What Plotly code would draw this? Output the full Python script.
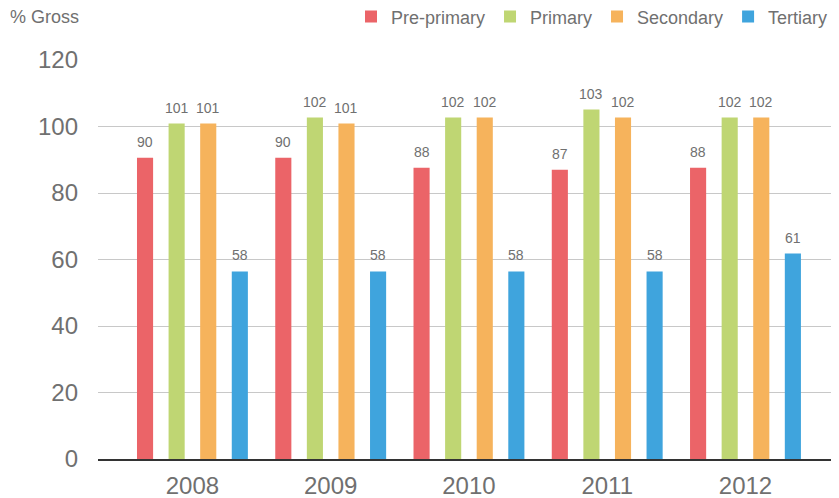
import plotly.graph_objects as go

years = ["2008", "2009", "2010", "2011", "2012"]
# bar heights as drawn in the picture
pre_primary = [90.6, 90.6, 87.6, 87.0, 87.6]
primary = [100.9, 102.7, 102.7, 105.1, 102.7]
secondary = [100.9, 100.9, 102.7, 102.7, 102.7]
tertiary = [56.4, 56.4, 56.4, 56.4, 61.8]
# value labels printed above the bars
pre_primary_labels = ["90", "90", "88", "87", "88"]
primary_labels = ["101", "102", "102", "103", "102"]
secondary_labels = ["101", "101", "102", "102", "102"]
tertiary_labels = ["58", "58", "58", "58", "61"]
y_ticks = [0, 20, 40, 60, 80, 100, 120]

series = [
    ("Pre-primary", pre_primary, pre_primary_labels, "#EB6468"),
    ("Primary", primary, primary_labels, "#BFD673"),
    ("Secondary", secondary, secondary_labels, "#F6B35C"),
    ("Tertiary", tertiary, tertiary_labels, "#3FA4DD"),
]

FONT = "Liberation Sans, Arial, sans-serif"
GRAY = "#707070"

W, H = 831, 490  # page body has an 8px default margin -> figure drawn at (8, 8)
ML, MR, MT, MB = 90, 6, 52, 39
X_RANGE = [-0.683, 4.633]
BARGAP = 0.086
plot_w = W - ML - MR
px_per_unit = plot_w / (X_RANGE[1] - X_RANGE[0])
slot_px = px_per_unit * (1 - BARGAP) / len(series)

fig = go.Figure()
for i, (name, vals, labels, color) in enumerate(series):
    fig.add_trace(go.Bar(
        x=years, y=vals, name=name, marker=dict(color=color, line=dict(width=0)),
        hovertext=labels,
    ))
    shift = (i - (len(series) - 1) / 2) * slot_px
    for j, (v, lab) in enumerate(zip(vals, labels)):
        # category axes place annotations by category index
        fig.add_annotation(x=j, y=v, xref="x", yref="y", text=lab, showarrow=False,
                           xanchor="center", yanchor="bottom", xshift=shift, yshift=6,
                           font=dict(size=14, color=GRAY, family=FONT))

fig.update_layout(
    width=W, height=H,
    margin=dict(l=ML, r=MR, t=MT, b=MB, autoexpand=False),
    paper_bgcolor="white", plot_bgcolor="white",
    barmode="group", bargap=BARGAP, bargroupgap=0.49,
    font=dict(family=FONT, color=GRAY),
    showlegend=True,
    legend=dict(orientation="h", x=1.0, xanchor="right", y=1.108, yanchor="middle",
                font=dict(size=18, color=GRAY, family=FONT), traceorder="normal",
                itemwidth=30, bgcolor="rgba(0,0,0,0)"),
)
fig.update_xaxes(
    type="category", range=X_RANGE, showgrid=False,
    showline=True, linecolor="#333333", linewidth=1.5,
    tickfont=dict(size=24, color=GRAY, family=FONT), ticks="", ticklabelstandoff=4,
)
fig.update_yaxes(
    range=[0, 120], tickvals=y_ticks, showgrid=True, gridcolor="#C8C8C8", gridwidth=1,
    zeroline=False, showline=False,
    tickfont=dict(size=24, color=GRAY, family=FONT), ticks="", ticklabelstandoff=19,
)
fig.add_annotation(text="% Gross", xref="paper", yref="paper", x=-ML / plot_w, y=1.108,
                   xanchor="left", yanchor="middle", showarrow=False,
                   font=dict(size=18, color=GRAY, family=FONT))

fig.write_html("out.html")
